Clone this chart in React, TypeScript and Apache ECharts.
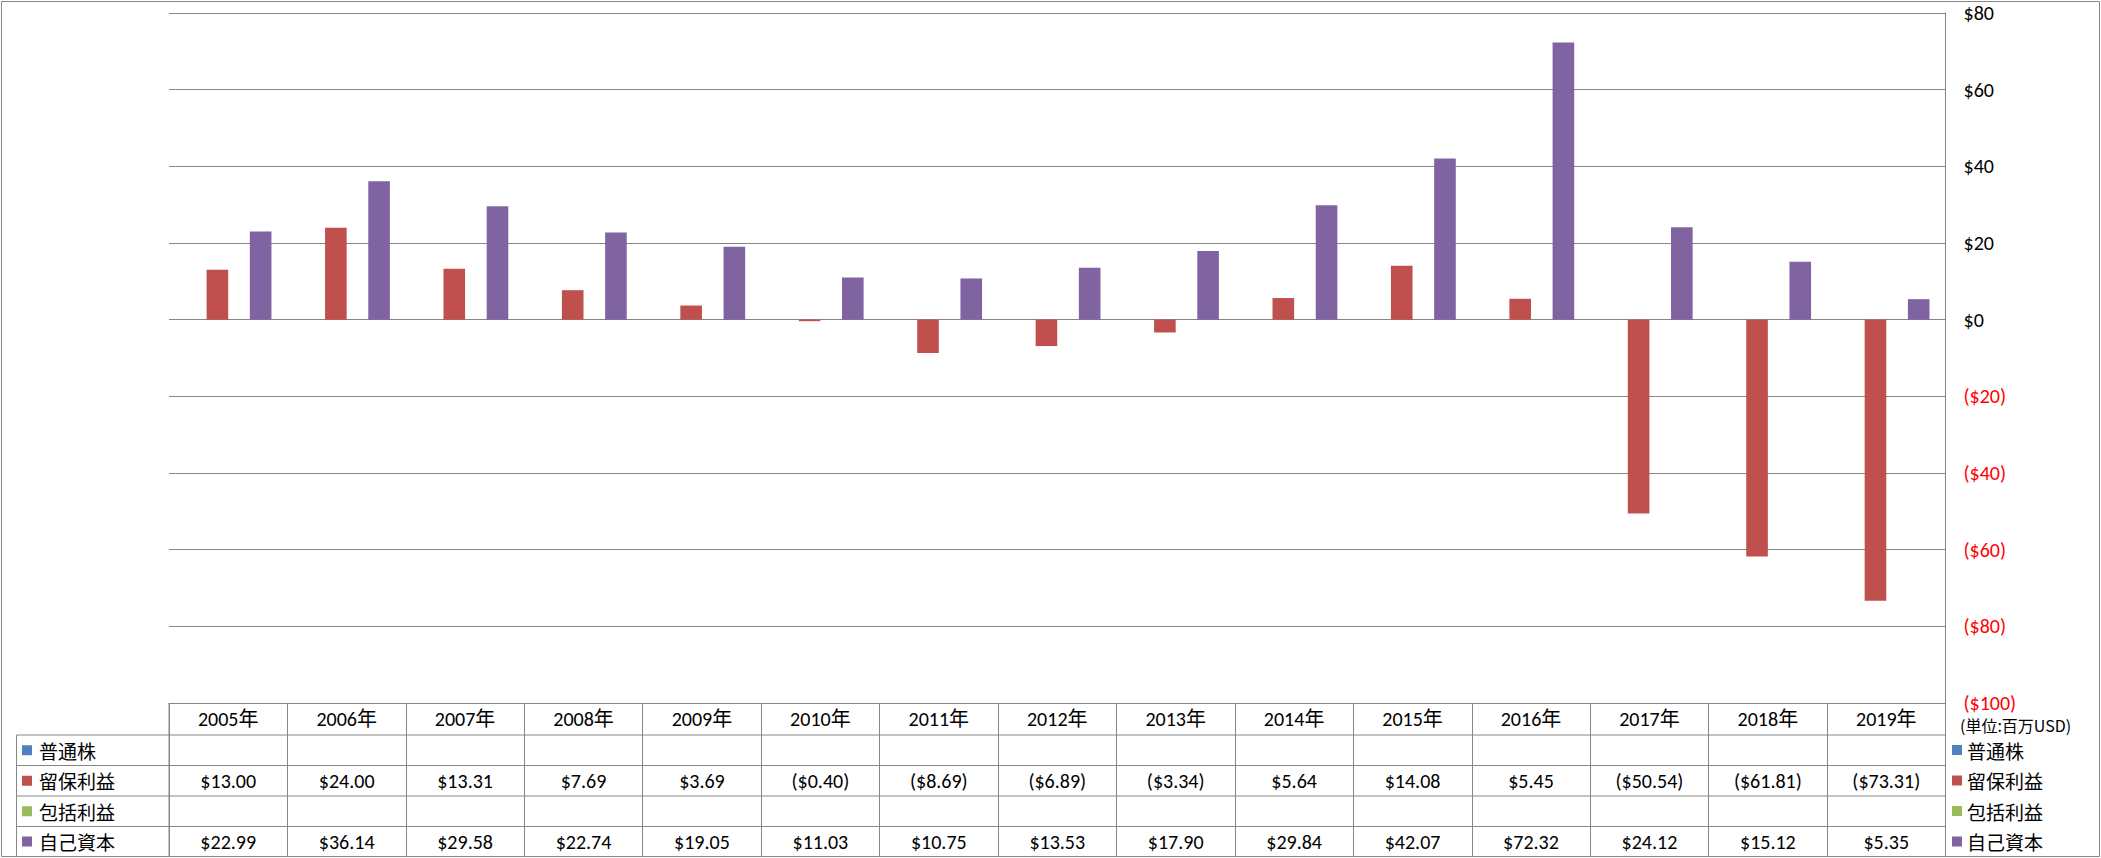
import React, { useEffect, useRef } from "react";
import * as echarts from "echarts";

const years = ["2005年", "2006年", "2007年", "2008年", "2009年", "2010年", "2011年", "2012年", "2013年", "2014年", "2015年", "2016年", "2017年", "2018年", "2019年"];
const seriesNames = ["普通株", "留保利益", "包括利益", "自己資本"];
const commonStock: (number | null)[] = [null, null, null, null, null, null, null, null, null, null, null, null, null, null, null];
const retainedEarnings: (number | null)[] = [13.0, 24.0, 13.31, 7.69, 3.69, -0.4, -8.69, -6.89, -3.34, 5.64, 14.08, 5.45, -50.54, -61.81, -73.31];
const comprehensiveIncome: (number | null)[] = [null, null, null, null, null, null, null, null, null, null, null, null, null, null, null];
const equity: (number | null)[] = [22.99, 36.14, 29.58, 22.74, 19.05, 11.03, 10.75, 13.53, 17.9, 29.84, 42.07, 72.32, 24.12, 15.12, 5.35];
const seriesColors = ["#4F81BD", "#C0504D", "#9BBB59", "#8064A2"];
const yMin = -100;
const yMax = 80;
const yInterval = 20;
const unitLabel = "(単位:百万USD)";

const seriesData = [commonStock, retainedEarnings, comprehensiveIncome, equity];

const LATIN = "Carlito, Calibri, 'Liberation Sans', 'Noto Sans CJK JP', sans-serif";
const CJK = "'Noto Sans CJK JP', 'Noto Sans CJK SC', sans-serif";
const GRAY = "#868686";

function fmtValue(v: number | null): string {
  if (v === null || v === undefined) return "";
  return v < 0 ? `($${Math.abs(v).toFixed(2)})` : `$${v.toFixed(2)}`;
}
function fmtAxis(v: number): string {
  return v < 0 ? `($${Math.abs(v)})` : `$${v}`;
}

export default function App() {
  const ref = useRef<HTMLDivElement>(null);
  useEffect(() => {
    if (!ref.current) return;
    const chart = echarts.init(ref.current, null, { renderer: "svg" });
    const gridTop = 13;
    const gridBottomY = 703;
    const option: any = {
      animation: false,
      backgroundColor: "#ffffff",
      grid: {
        left: 169,
        right: 155.5,
        top: gridTop,
        bottom: 858 - gridBottomY,
        containLabel: false,
        outerBoundsMode: "none",
      },
      legend: {
        orient: "vertical",
        left: 1952,
        top: 740,
        padding: 0,
        itemWidth: 10,
        itemHeight: 10,
        itemGap: 10.5,
        icon: "rect",
        data: seriesNames,
        textStyle: { fontSize: 19, lineHeight: 20, fontFamily: CJK, color: "#000" },
      },
      xAxis: {
        type: "category",
        data: years,
        position: "bottom",
        axisLine: { show: true, onZero: false, lineStyle: { color: GRAY, width: 1 } },
        axisTick: { show: true, length: 153, alignWithLabel: false, lineStyle: { color: GRAY, width: 1 } },
        axisLabel: {
          show: true,
          margin: 16,
          verticalAlign: "middle",
          fontSize: 20,
          color: "#000",
          fontFamily: LATIN,
          interval: 0,
        },
        splitLine: { show: false },
      },
      yAxis: {
        type: "value",
        position: "right",
        min: yMin,
        max: yMax,
        interval: yInterval,
        axisLine: { show: true, lineStyle: { color: GRAY, width: 1 } },
        axisTick: { show: false },
        splitLine: { show: true, lineStyle: { color: GRAY, width: 1 } },
        axisLabel: {
          margin: 18,
          fontSize: 20,
          fontFamily: LATIN,
          formatter: (v: number) => fmtAxis(v),
          color: (v: any) => (Number(v) < 0 ? "#FF0000" : "#000000"),
        },
      },
      series: seriesNames.map((name, i) => ({
        name,
        type: "bar",
        data: seriesData[i],
        itemStyle: { color: seriesColors[i] },
        barGap: "0%",
        barCategoryGap: "27%",
      })),
    };
    chart.setOption(option);

    const xs = years.map((y) => chart.convertToPixel({ xAxisIndex: 0 } as any, y) as number);
    const band = xs.length > 1 ? xs[1] - xs[0] : 100;
    const tableLeft = xs[0] - band / 2;
    const tableRight = xs[xs.length - 1] + band / 2;
    const legendLeft = 16.5;
    const rowBounds = [735, 765.5, 796, 826.5, 856.5];
    const graphics: any[] = [];

    graphics.push({
      type: "rect",
      shape: { x: 1.5, y: 1.5, width: 2098, height: 855 },
      style: { fill: "none", stroke: GRAY, lineWidth: 1 },
      silent: true,
    });
    rowBounds.forEach((y) => {
      graphics.push({
        type: "line",
        shape: { x1: legendLeft, y1: y, x2: tableRight, y2: y },
        style: { stroke: GRAY, lineWidth: 1 },
        silent: true,
      });
    });
    graphics.push({
      type: "line",
      shape: { x1: legendLeft, y1: rowBounds[0], x2: legendLeft, y2: rowBounds[rowBounds.length - 1] },
      style: { stroke: GRAY, lineWidth: 1 },
      silent: true,
    });
    graphics.push({
      type: "line",
      shape: { x1: tableLeft, y1: gridBottomY, x2: tableLeft, y2: rowBounds[rowBounds.length - 1] },
      style: { stroke: GRAY, lineWidth: 1 },
      silent: true,
    });
    graphics.push({
      type: "line",
      shape: { x1: tableRight, y1: gridBottomY, x2: tableRight, y2: rowBounds[rowBounds.length - 1] },
      style: { stroke: GRAY, lineWidth: 1 },
      silent: true,
    });

    seriesNames.forEach((name, r) => {
      const cy = (rowBounds[r] + rowBounds[r + 1]) / 2;
      graphics.push({
        type: "rect",
        shape: { x: 22, y: cy - 5, width: 10, height: 10 },
        style: { fill: seriesColors[r] },
        silent: true,
      });
      graphics.push({
        type: "text",
        x: 39,
        y: cy,
        style: { text: name, fontSize: 19, fontFamily: CJK, fill: "#000", verticalAlign: "middle", align: "left" },
        silent: true,
      });
      seriesData[r].forEach((v, i) => {
        const t = fmtValue(v);
        if (!t) return;
        graphics.push({
          type: "text",
          x: xs[i],
          y: cy,
          style: { text: t, fontSize: 20, fontFamily: LATIN, fill: "#000", align: "center", verticalAlign: "middle" },
          silent: true,
        });
      });
    });

    graphics.push({
      type: "text",
      x: 1960,
      y: 725,
      style: { text: unitLabel, fontSize: 16, fontFamily: CJK, fill: "#000", align: "left", verticalAlign: "middle" },
      silent: true,
    });

    chart.setOption({ graphic: graphics });
    return () => chart.dispose();
  }, []);
  return <div ref={ref} style={{ position: "absolute", left: 0, top: 0, width: 2101, height: 858 }} />;
}
